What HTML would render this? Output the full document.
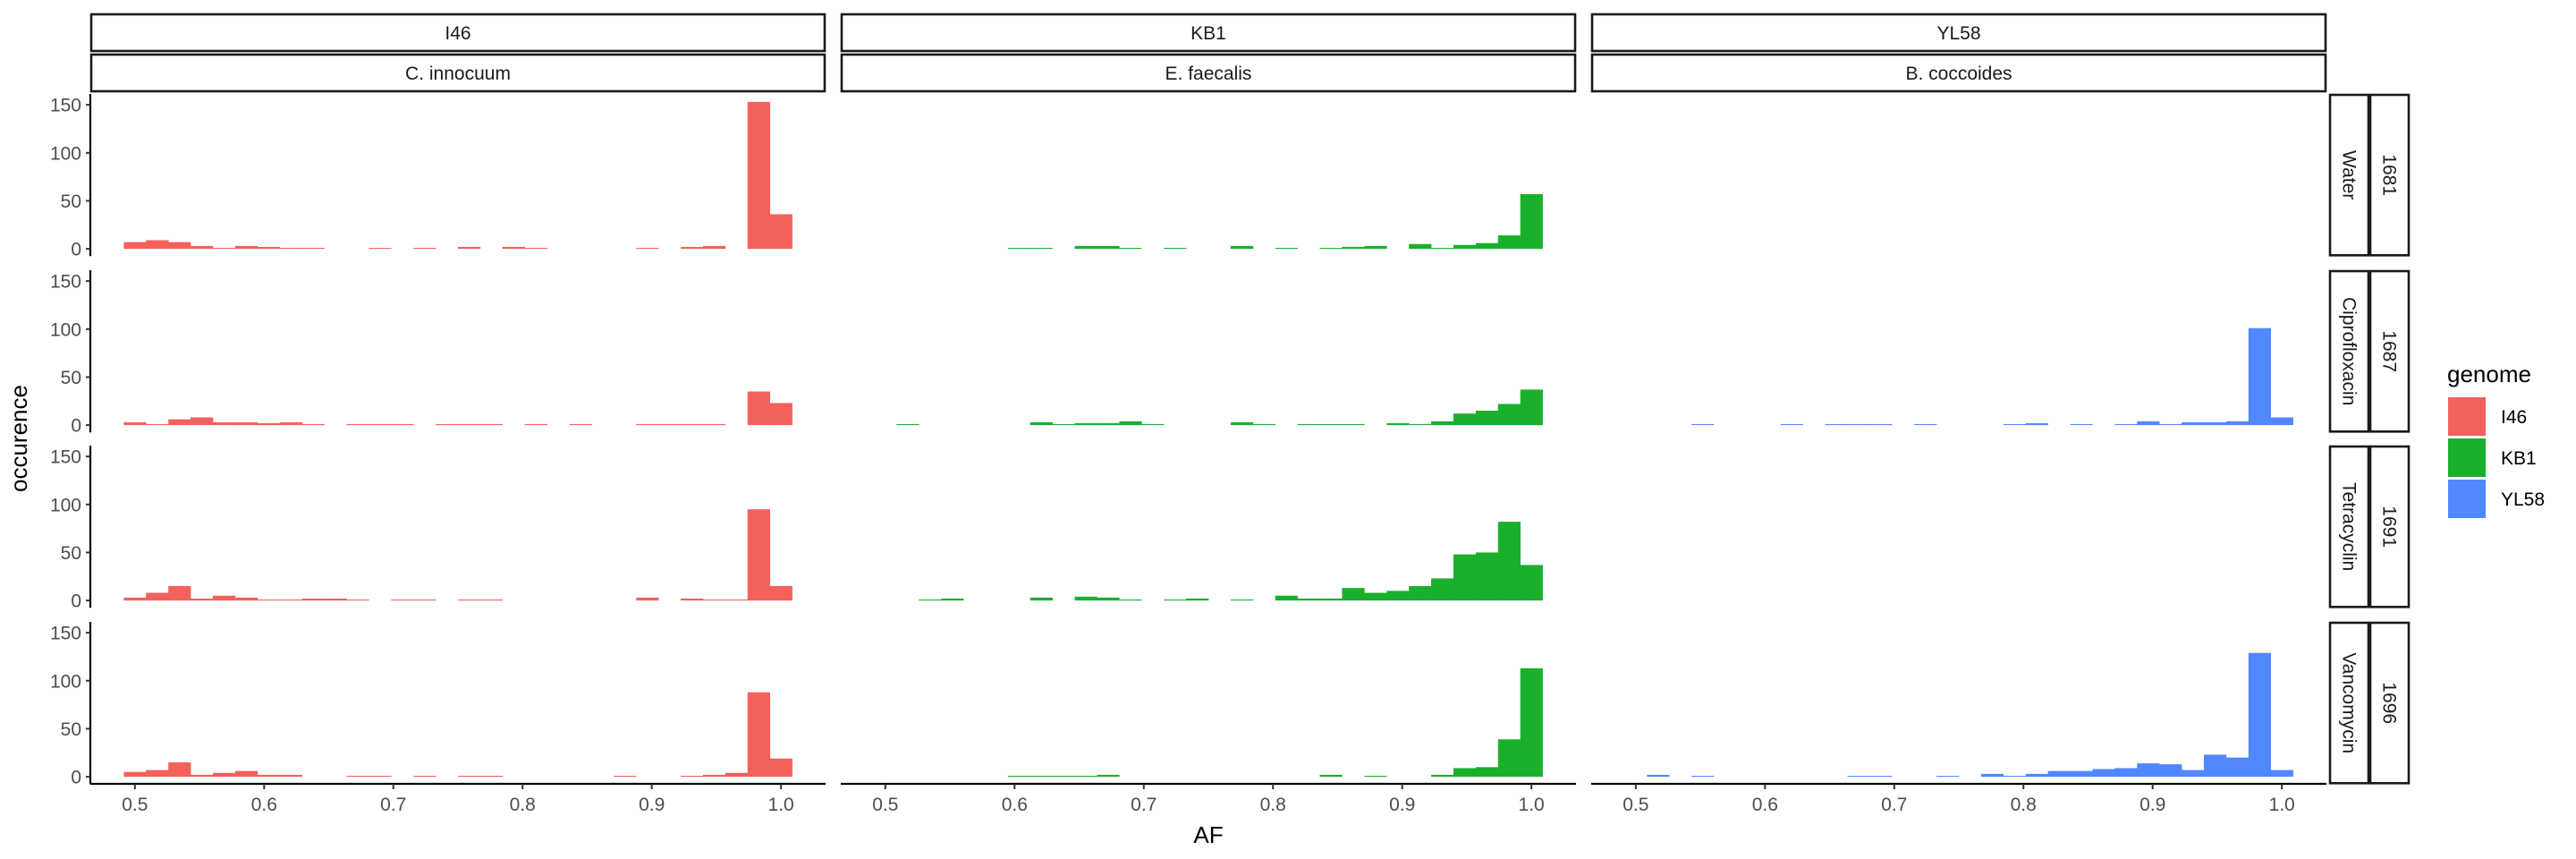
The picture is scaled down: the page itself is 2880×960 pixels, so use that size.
<!DOCTYPE html>
<html><head><meta charset="utf-8"><style>
html,body{margin:0;padding:0;background:#fff;}
svg{display:block;font-family:"Liberation Sans",Arial,sans-serif;}
</style></head><body>
<svg id="chart" width="2880" height="960" viewBox="0 0 2880 960" xmlns="http://www.w3.org/2000/svg"></svg>
<script>
const genomes = ["I46","KB1","YL58"];
const species = ["C. innocuum","E. faecalis","B. coccoides"];
const treatments = ["Water","Ciprofloxacin","Tetracyclin","Vancomycin"];
const samples = ["1681","1687","1691","1696"];
const colors = ["#F3615C","#1AB02C","#5188FF"];
const xTicks = [0.5,0.6,0.7,0.8,0.9,1.0];
const xTickLabels = ["0.5","0.6","0.7","0.8","0.9","1.0"];
const yTicks = [0,50,100,150];
const binCount = 30;
const i46Water = [7,9,7,3,1,3,2,1,1,0,0,1,0,1,0,2,0,2,1,0,0,0,0,1,0,2,3,0,153,36];
const i46Cipro = [3,1,6,8,3,3,2,3,1,0,1,1,1,0,1,1,1,0,1,0,1,0,0,1,1,1,1,0,35,23];
const i46Tetra = [3,8,15,2,5,3,1,1,2,2,1,0,1,1,0,1,1,0,0,0,0,0,0,3,0,2,1,1,95,15];
const i46Vanco = [5,7,15,2,4,6,2,2,0,0,1,1,0,1,0,1,1,0,0,0,0,0,1,0,0,1,2,4,88,19];
const kb1Water = [0,0,0,0,0,0,1,1,0,3,3,1,0,1,0,0,3,0,1,0,1,2,3,0,5,1,4,6,14,57];
const kb1Cipro = [0,1,0,0,0,0,0,3,1,2,2,4,1,0,0,0,3,1,0,1,1,1,0,2,1,4,12,15,22,37];
const kb1Tetra = [0,0,1,2,0,0,0,3,0,4,3,1,0,1,2,0,1,0,5,2,2,13,8,10,15,23,48,50,82,37];
const kb1Vanco = [0,0,0,0,0,0,1,1,1,1,2,0,0,0,0,0,0,0,0,0,2,0,1,0,0,2,9,10,39,113];
const yl58Water = [];
const yl58Cipro = [0,0,0,1,0,0,0,1,0,1,1,1,0,1,0,0,0,1,2,0,1,0,1,4,1,3,3,4,101,8];
const yl58Tetra = [];
const yl58Vanco = [0,2,0,1,0,0,0,0,0,0,1,1,0,0,1,0,3,1,3,6,6,8,9,14,13,7,23,20,129,7];
const panelData = [
  [i46Water,kb1Water,yl58Water],
  [i46Cipro,kb1Cipro,yl58Cipro],
  [i46Tetra,kb1Tetra,yl58Tetra],
  [i46Vanco,kb1Vanco,yl58Vanco]
];

const NS="http://www.w3.org/2000/svg";
const svg=document.getElementById("chart");
const colX=[101,940,1779], panelW=822;
const rowTop=[105,302,498,695], panelH=181.3;
const xMin=0.4655, xMax=1.0345, yMin=-7.65, yMax=161.3;
const binW=0.5/(binCount-1);
function sx(c,v){return colX[c]+(v-xMin)/(xMax-xMin)*panelW;}
function sy(r,v){return rowTop[r]+panelH-(v-yMin)/(yMax-yMin)*panelH;}
function el(tag,attrs,parent){const e=document.createElementNS(NS,tag);for(const k in attrs)e.setAttribute(k,attrs[k]);(parent||svg).appendChild(e);return e;}
function txt(s,attrs,parent){const t=el("text",attrs,parent);t.textContent=s;return t;}

for(let c=0;c<3;c++){
  const g=el("g",{});
  
  
  el("rect",{x:colX[c]+1,y:16,width:panelW-2,height:41,fill:"#fff",stroke:"#1a1a1a","stroke-width":2.6},g);
  txt(genomes[c],{x:colX[c]+panelW/2,y:44,"text-anchor":"middle","font-size":21,fill:"#1a1a1a"},g);
  el("rect",{x:colX[c]+1,y:61,width:panelW-2,height:41,fill:"#fff",stroke:"#1a1a1a","stroke-width":2.6},g);
  txt(species[c],{x:colX[c]+panelW/2,y:89,"text-anchor":"middle","font-size":21,fill:"#1a1a1a"},g);
}
for(let r=0;r<4;r++){
  const g=el("g",{});
  
  
  el("rect",{x:2605,y:rowTop[r]+1,width:43,height:panelH-2,fill:"#fff",stroke:"#1a1a1a","stroke-width":2.6},g);
  el("rect",{x:2650,y:rowTop[r]+1,width:43,height:panelH-2,fill:"#fff",stroke:"#1a1a1a","stroke-width":2.6},g);
  const cy=rowTop[r]+panelH/2;
  txt(treatments[r],{x:2626,y:cy,"text-anchor":"middle","dominant-baseline":"central","font-size":21,fill:"#1a1a1a",transform:"rotate(90 2626 "+cy+")"},g);
  txt(samples[r],{x:2671,y:cy,"text-anchor":"middle","dominant-baseline":"central","font-size":21,fill:"#1a1a1a",transform:"rotate(90 2671 "+cy+")"},g);
}
for(let r=0;r<4;r++){for(let c=0;c<3;c++){
  const data=panelData[r][c];
  const g=el("g",{});
  
  
  for(let k=0;k<data.length;k++){
    if(!data[k])continue;
    const centre=0.5+k*binW;
    const x0=sx(c,centre-binW/2), x1=sx(c,centre+binW/2);
    const y0=sy(r,0), y1=sy(r,data[k]);
    const b=el("rect",{x:x0,y:y1,width:x1-x0+0.3,height:y0-y1,fill:colors[c]},g);
    
    
  }
}}
for(let r=0;r<4;r++){
  const g=el("g",{});
  
  
  el("line",{x1:101,x2:101,y1:rowTop[r],y2:rowTop[r]+panelH,stroke:"#000","stroke-width":2.2},g);
  yTicks.forEach(v=>{
    const y=sy(r,v);
    el("line",{x1:96,x2:101,y1:y,y2:y,stroke:"#333","stroke-width":2},g);
    txt(String(v),{x:91,y:y+7.5,"text-anchor":"end","font-size":21,fill:"#4D4D4D"},g);
  });
}
for(let c=0;c<3;c++){
  const g=el("g",{});
  
  
  el("line",{x1:colX[c],x2:colX[c]+panelW,y1:876,y2:876,stroke:"#000","stroke-width":2.2},g);
  xTicks.forEach((v,i)=>{
    const x=sx(c,v);
    el("line",{x1:x,x2:x,y1:876,y2:882,stroke:"#333","stroke-width":2},g);
    txt(xTickLabels[i],{x:x,y:906,"text-anchor":"middle","font-size":21,fill:"#4D4D4D"},g);
  });
}
const yt=txt("occurence",{x:30,y:490,"text-anchor":"middle","font-size":26,fill:"#000",transform:"rotate(-90 30 490)"});


const xt=txt("AF",{x:1351,y:942,"text-anchor":"middle","font-size":26,fill:"#000"});


const lg=el("g",{});


txt("genome",{x:2736,y:427,"font-size":26,fill:"#000"},lg);
for(let i=0;i<3;i++){
  const eg=el("g",{},lg);
  
  
  el("rect",{x:2737,y:444+i*46,width:42,height:43,fill:colors[i]},eg);
  txt(genomes[i],{x:2796,y:444+i*46+29,"font-size":21,fill:"#000"},eg);
}
</script>
</body></html>
